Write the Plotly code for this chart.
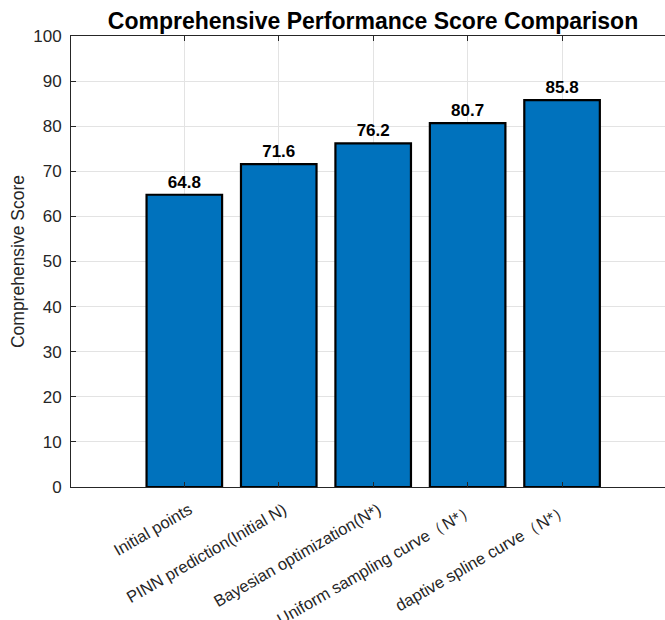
import plotly.graph_objects as go

categories = [
    "Initial points",
    "PINN prediction(Initial N)",
    "Bayesian optimization(N*)",
    "Uniform sampling curve（N*）",
    "daptive spline curve（N*）",
]
scores = [64.8, 71.6, 76.2, 80.7, 85.8]
y_ticks = list(range(0, 101, 10))

positions = list(range(len(categories)))
FONT = "Liberation Sans, Arial, sans-serif"
AX = "#262626"
GRID = "#e3e3e3"
xr = [-1.2, 5.09]

fig = go.Figure()
fig.add_trace(go.Bar(
    x=positions, y=scores, width=0.8,
    marker=dict(color="#0072BD", line=dict(color="black", width=2.2)),
    texttemplate="<b>%{y:.1f}</b>", textposition="outside",
    textfont=dict(family=FONT, size=17, color="black"),
    cliponaxis=False, showlegend=False,
))
fig.add_trace(go.Scatter(x=[0], y=[0], xaxis="x2", mode="markers",
                         marker=dict(opacity=0), showlegend=False, hoverinfo="skip"))

fig.update_layout(
    width=665, height=620,
    margin=dict(l=71, r=0, t=36, b=133),
    paper_bgcolor="white", plot_bgcolor="white",
    font=dict(family=FONT, color=AX),
    title=dict(text="<b>Comprehensive Performance Score Comparison</b>",
               x=373/665, xref="container", xanchor="center",
               y=1 - 21/620, yanchor="middle",
               font=dict(family=FONT, size=23, color="black")),
    bargap=0.2,
    xaxis=dict(
        range=xr, tickmode="array", tickvals=positions, ticktext=categories,
        tickangle=-30, tickfont=dict(family=FONT, size=16.5, color=AX),
        ticks="inside", ticklen=5, tickcolor=AX, ticklabelstandoff=6,
        ticklabelshift=5, automargin=False,
        showline=True, linecolor=AX, linewidth=1,
        showgrid=True, gridcolor=GRID, gridwidth=1, zeroline=False,
    ),
    xaxis2=dict(
        range=xr, overlaying="x", side="top", tickmode="array", tickvals=positions,
        showticklabels=False, ticks="inside", ticklen=5, tickcolor=AX,
        showline=True, linecolor=AX, linewidth=1, showgrid=False, zeroline=False,
        automargin=False,
    ),
    yaxis=dict(
        range=[0, 100], tickmode="array", tickvals=y_ticks,
        tickfont=dict(family=FONT, size=17, color=AX),
        ticks="inside", ticklen=5, tickcolor=AX, ticklabelstandoff=5,
        showline=True, linecolor=AX, linewidth=1, automargin=False,
        showgrid=True, gridcolor=GRID, gridwidth=1, zeroline=False,
        title=dict(text="Comprehensive Score", font=dict(family=FONT, size=17.5, color=AX),
                   standoff=4),
    ),
)

fig.write_html("out.html")
